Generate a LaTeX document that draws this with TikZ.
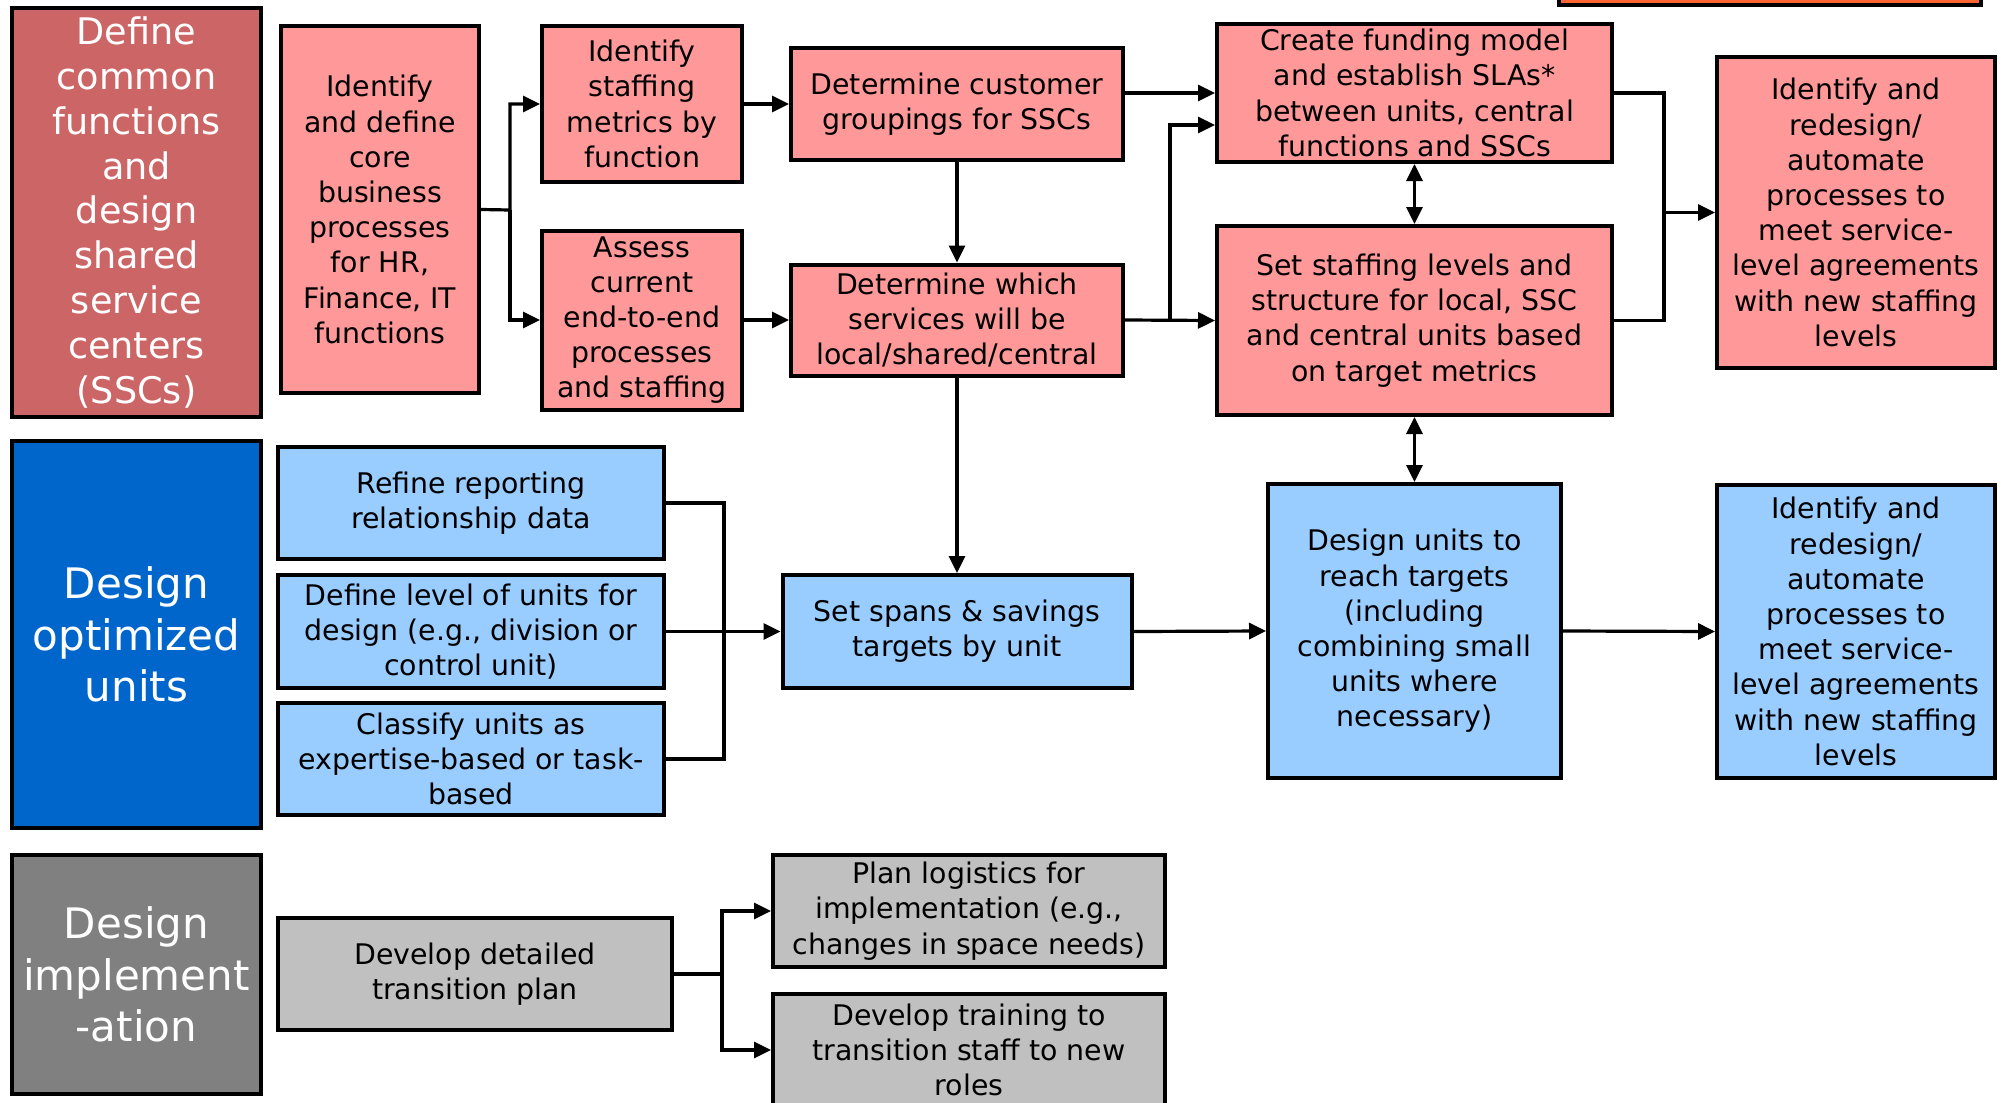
\documentclass[tikz,border=0pt]{standalone}
\usepackage{fontspec}
\setmainfont{DejaVu Sans}
\usetikzlibrary{arrows.meta}
\definecolor{hdrred}{HTML}{CC6666}
\definecolor{boxred}{HTML}{FF9999}
\definecolor{hdrblue}{HTML}{0066CC}
\definecolor{boxblue}{HTML}{99CCFF}
\definecolor{hdrgrey}{HTML}{808080}
\definecolor{boxgrey}{HTML}{C0C0C0}
\definecolor{flagorange}{HTML}{FF6633}

\begin{document}
\begin{tikzpicture}[x=0.5pt, y=-0.5pt, >={Triangle[length=8.5pt, width=8pt]}, line width=1.6pt,
  card/.style={draw=black, line width=2pt, align=center, inner sep=0pt,
    font=\fontsize{14.2}{17.6}\selectfont},
  sz/.style 2 args={minimum width={#1*0.5pt-2pt}, minimum height={#2*0.5pt-2pt}},
  header/.style={card, text=white, font=\fontsize{21}{25.6}\selectfont},
  redcard/.style={card, fill=boxred},
  bluecard/.style={card, fill=boxblue},
  greycard/.style={card, fill=boxgrey}]

% Page
\useasboundingbox (0,0) rectangle (2005,1102);
\clip (0,0) rectangle (2005,1102);
\fill[white] (0,0) rectangle (2005,1102);

% Cut-off box at the top edge
\filldraw[fill=flagorange, draw=black, line width=2pt] (1559,-60) rectangle (1981,5);

% ========== Row 1: shared service centers ==========
\node[header, fill=hdrred, sz={253}{413}, font=\fontsize{18.3}{22.4}\selectfont] (hdrA) at (136.5,212.5)
  {Define\\common\\functions\\and\\design\\shared\\service\\centers\\(SSCs)};

\node[redcard, sz={202}{371}] (core) at (380,209.5)
  {Identify\\and define\\core\\business\\processes\\for HR,\\Finance, IT\\functions};
\node[redcard, sz={204}{159}] (staff) at (642,104)
  {Identify\\staffing\\metrics by\\function};
\node[redcard, sz={204}{183}] (assess) at (642,320)
  {Assess\\current\\end-to-end\\processes\\and staffing};
\node[redcard, sz={336}{116}] (cust) at (957,104)
  {Determine customer\\groupings for SSCs};
\node[redcard, sz={336}{115}] (which) at (957,320)
  {Determine which\\services will be\\local/shared/central};
\node[redcard, sz={399}{142}] (fund) at (1414.5,93)
  {Create funding model\\and establish SLAs*\\between units, central\\functions and SSCs};
\node[redcard, sz={399}{193}] (setstaff) at (1414.5,320.5)
  {Set staffing levels and\\structure for local, SSC\\and central units based\\on target metrics};
\node[redcard, sz={282}{315}] (redesA) at (1856,212.5)
  {Identify and\\redesign/\\automate\\processes to\\meet service-\\level agreements\\with new staffing\\levels};

\coordinate (brA) at (510,210);
\draw[->] (core.east) -- (brA) |- (staff.west);
\draw[->] (brA) |- (assess.west);
\draw[->] (staff.east) -- (cust.west);
\draw[->] (assess.east) -- (which.west);
\draw[->] (cust.south) -- (which.north);
\draw[->] (cust.east |- fund.west) -- (fund.west);
\draw[->] (which.east) -- (setstaff.west);
\coordinate (brB) at (1170,320);
\draw[->] (brB) |- ([yshift=-16pt]fund.west);
\draw[<->] (fund.south) -- (setstaff.north);
\coordinate (brC) at (1664,212.5);
\draw (fund.east) -| (brC) |- (setstaff.east);
\draw[->] (brC) -- (redesA.west);

% ========== Row 2: optimized units ==========
\node[header, fill=hdrblue, sz={253}{391}] (hdrB) at (136.5,634.5)
  {Design\\optimized\\units};

\node[bluecard, sz={390}{116}] (refine) at (471,503)
  {Refine reporting\\relationship data};
\node[bluecard, sz={390}{117}] (deflevel) at (471,631.5)
  {Define level of units for\\design (e.g., division or\\control unit)};
\node[bluecard, sz={390}{116}] (classify) at (471,759)
  {Classify units as\\expertise-based or task-\\based};
\node[bluecard, sz={353}{117}] (spans) at (957,631.5)
  {Set spans \& savings\\targets by unit};
\node[bluecard, sz={297}{298}] (dunits) at (1414.5,631)
  {Design units to\\reach targets\\(including\\combining small\\units where\\necessary)};
\node[bluecard, sz={282}{297}] (redesB) at (1856,631.5)
  {Identify and\\redesign/\\automate\\processes to\\meet service-\\level agreements\\with new staffing\\levels};

\draw[->] (which.south) -- (spans.north);
\coordinate (brD) at (724,631.5);
\draw (refine.east) -| (brD) |- (classify.east);
\draw[->] (deflevel.east) -- (spans.west);
\draw[->] (spans.east) -- (dunits.west);
\draw[<->] (setstaff.south) -- (dunits.north);
\draw[->] (dunits.east) -- (redesB.west);

% ========== Row 3: implementation ==========
\node[header, fill=hdrgrey, sz={253}{243}] (hdrC) at (136.5,974.5)
  {Design\\implement\\-ation};

\node[greycard, sz={398}{116}] (transit) at (475,974)
  {Develop detailed\\transition plan};
\node[greycard, sz={396}{116}] (logist) at (969,911)
  {Plan logistics for\\implementation (e.g.,\\changes in space needs)};
\node[greycard, sz={396}{116}] (training) at (969,1050)
  {Develop training to\\transition staff to new\\roles};

\coordinate (brE) at (722,974);
\draw (transit.east) -- (brE);
\draw[->] (brE) |- (logist.west);
\draw[->] (brE) |- (training.west);

\end{tikzpicture}
\end{document}
